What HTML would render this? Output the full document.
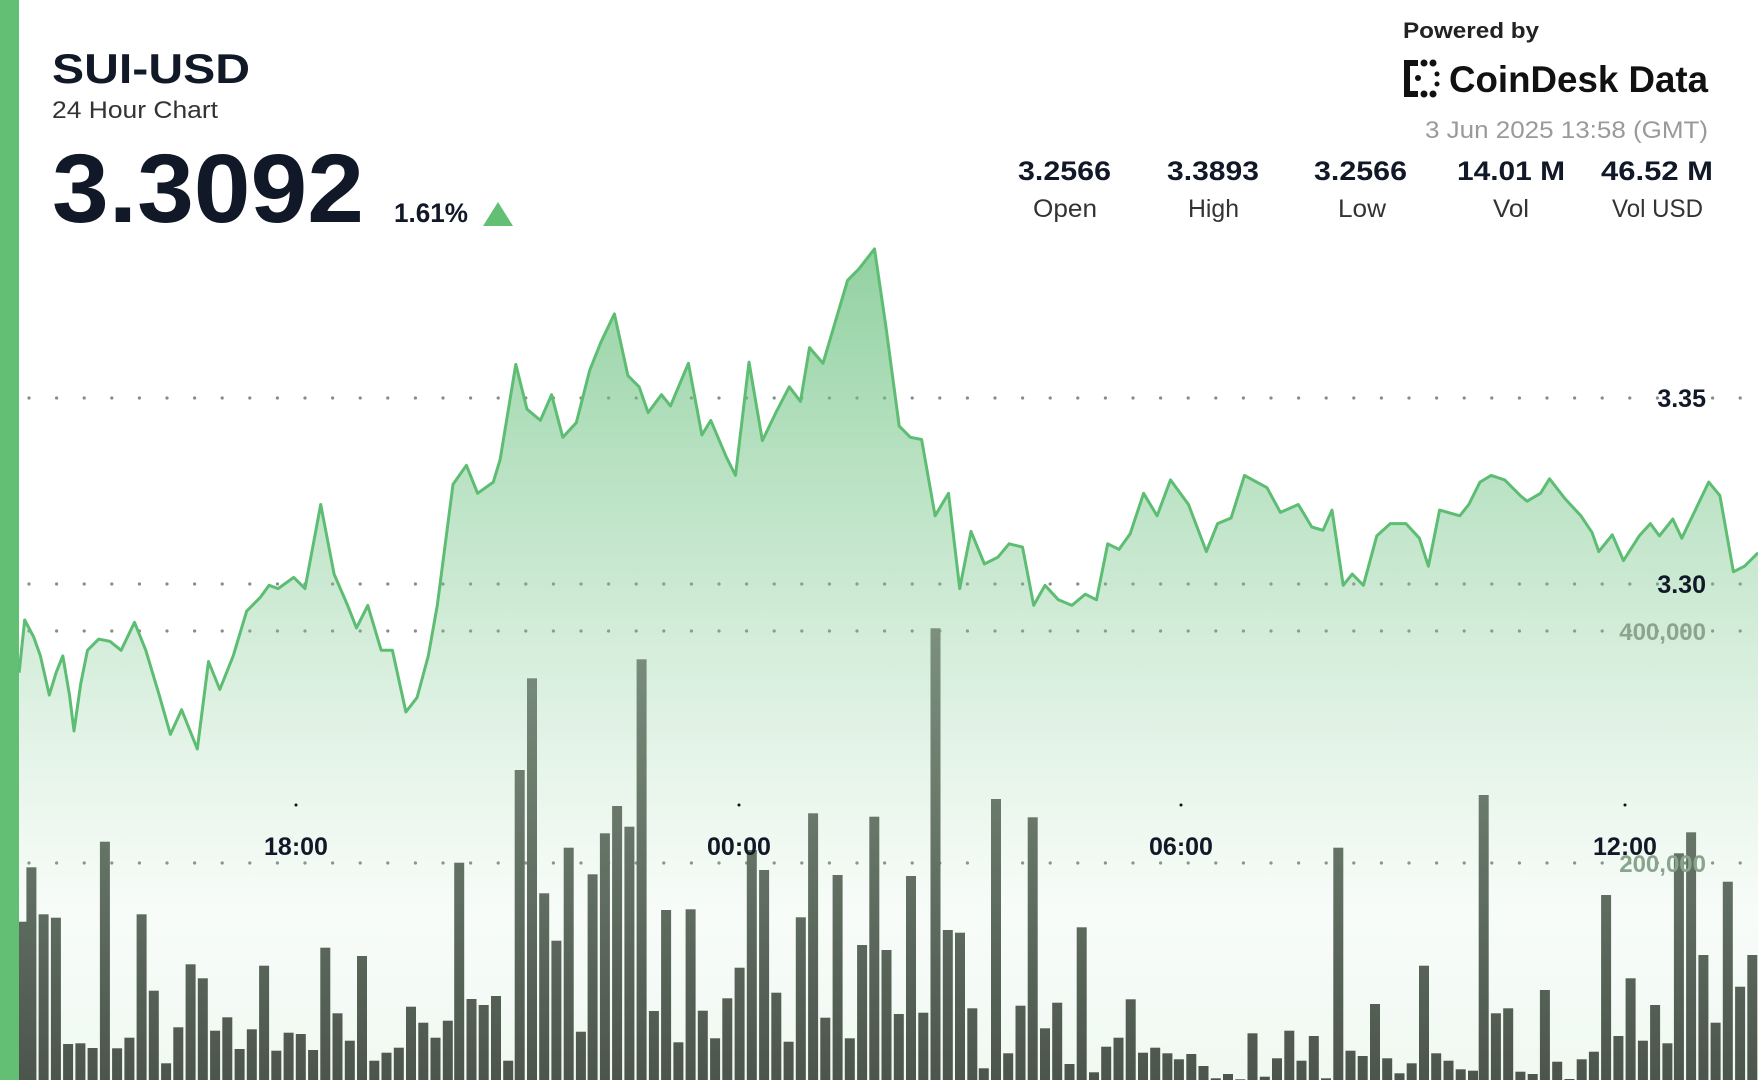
<!DOCTYPE html>
<html><head><meta charset="utf-8"><style>
html,body{margin:0;padding:0;background:#fff;width:1758px;height:1080px;overflow:hidden}
svg{display:block}
text{font-family:"Liberation Sans",sans-serif}
</style></head><body>
<svg id="s" width="1758" height="1080" viewBox="0 0 1758 1080" xmlns="http://www.w3.org/2000/svg">
<defs>
<linearGradient id="fg" gradientUnits="userSpaceOnUse" x1="0" y1="249" x2="0" y2="1080">
<stop offset="0" stop-color="#62bd78" stop-opacity="0.7"/>
<stop offset="0.45" stop-color="#7cc88e" stop-opacity="0.35"/>
<stop offset="0.8" stop-color="#9ed6aa" stop-opacity="0.08"/>
<stop offset="1" stop-color="#9ed6aa" stop-opacity="0.15"/>
</linearGradient>
<linearGradient id="bg" gradientUnits="userSpaceOnUse" x1="0" y1="620" x2="0" y2="1080">
<stop offset="0" stop-color="#7d917f"/>
<stop offset="1" stop-color="#4c554c"/>
</linearGradient>
</defs>
<rect x="0" y="0" width="19" height="1080" fill="#63bf74"/>
<g id="grid"></g>
<path id="area" fill="url(#fg)"/>
<g id="bars"></g>
<path id="line" fill="none" stroke="#5dbd73" stroke-width="3" stroke-linejoin="round"/>
<g id="dots"></g>

<text x="52" y="83" font-size="42" font-weight="bold" fill="#111827" textLength="198" lengthAdjust="spacingAndGlyphs">SUI-USD</text>
<text x="52" y="118" font-size="24" fill="#333" textLength="166" lengthAdjust="spacingAndGlyphs">24 Hour Chart</text>
<text x="52" y="222" font-size="97" font-weight="bold" fill="#111827" textLength="312" lengthAdjust="spacingAndGlyphs">3.3092</text>
<text x="394" y="222" font-size="27" font-weight="bold" fill="#111827" textLength="74" lengthAdjust="spacingAndGlyphs">1.61%</text>
<polygon points="483,226 513,226 498,202" fill="#63bf74"/>

<text x="1403" y="38" font-size="22" font-weight="bold" fill="#222" textLength="136" lengthAdjust="spacingAndGlyphs">Powered by</text>
<g fill="#111">
<rect x="1404" y="60" width="6" height="37"/><rect x="1404" y="60" width="14" height="6"/><rect x="1404" y="91" width="14" height="6"/>
<circle cx="1424" cy="63" r="3.5"/><circle cx="1433" cy="63" r="3.5"/><circle cx="1424" cy="94" r="3.5"/><circle cx="1433" cy="94" r="3.5"/>
<circle cx="1418" cy="78" r="3"/><circle cx="1437" cy="74" r="2.5"/><circle cx="1437" cy="84" r="2.5"/>
</g>
<text x="1449" y="92" font-size="37" font-weight="bold" fill="#111" textLength="259" lengthAdjust="spacingAndGlyphs">CoinDesk Data</text>
<text x="1425" y="138" font-size="24" fill="#9a9a9a" textLength="283" lengthAdjust="spacingAndGlyphs">3 Jun 2025 13:58 (GMT)</text>

<g font-size="27" font-weight="bold" fill="#111827">
<text x="1018" y="180" textLength="93" lengthAdjust="spacingAndGlyphs">3.2566</text>
<text x="1167" y="180" textLength="92" lengthAdjust="spacingAndGlyphs">3.3893</text>
<text x="1314" y="180" textLength="93" lengthAdjust="spacingAndGlyphs">3.2566</text>
<text x="1457" y="180" textLength="108" lengthAdjust="spacingAndGlyphs">14.01 M</text>
<text x="1601" y="180" textLength="112" lengthAdjust="spacingAndGlyphs">46.52 M</text>
</g>
<g font-size="25" fill="#333">
<text x="1033" y="217" textLength="64" lengthAdjust="spacingAndGlyphs">Open</text>
<text x="1188" y="217" textLength="51" lengthAdjust="spacingAndGlyphs">High</text>
<text x="1338" y="217" textLength="48" lengthAdjust="spacingAndGlyphs">Low</text>
<text x="1493" y="217" textLength="36" lengthAdjust="spacingAndGlyphs">Vol</text>
<text x="1612" y="217" textLength="91" lengthAdjust="spacingAndGlyphs">Vol USD</text>
</g>

<g font-size="25" font-weight="bold" fill="#111827" text-anchor="end">
<text x="1706" y="407">3.35</text>
<text x="1706" y="593">3.30</text>
</g>
<g font-size="24" font-weight="bold" fill="#8aa58e" text-anchor="end">
<text x="1706" y="640">400,000</text>
<text x="1706" y="872">200,000</text>
</g>
<g font-size="25" font-weight="bold" fill="#111827" text-anchor="middle">
<text x="296" y="855">18:00</text>
<text x="739" y="855">00:00</text>
<text x="1181" y="855">06:00</text>
<text x="1625" y="855">12:00</text>
</g>
<g fill="#111"><circle cx="296" cy="805" r="1.5"/><circle cx="739" cy="805" r="1.5"/><circle cx="1181" cy="805" r="1.5"/><circle cx="1625" cy="805" r="1.5"/></g>
</svg>
<script>
(function(){
var NS="http://www.w3.org/2000/svg";
function el(t,a,p){var e=document.createElementNS(NS,t);for(var k in a)e.setAttribute(k,a[k]);p.appendChild(e);return e;}
var g=document.getElementById('grid');
[398,584,631,863].forEach(function(y){for(var x=29;x<1758;x+=27.6){el('circle',{cx:x.toFixed(1),cy:y,r:1.6,fill:'#8a8a8a'},g);}});
var P=[17,600,22,553,30,568,36,585,44,620,50,600,56,585,62,620,66,652,72,610,78,580,88,570,98,572,108,580,120,555,130,580,142,620,152,655,162,633,176,668,186,590,196,615,208,585,220,545,232,533,240,522,248,525,262,515,272,525,286,450,298,512,310,540,318,560,328,540,340,580,350,580,362,635,372,622,382,585,390,540,404,432,416,415,426,440,440,430,446,410,460,325,470,365,482,375,492,352,502,390,514,377,526,330,536,305,548,280,560,335,570,345,578,368,590,352,598,362,614,324,626,388,634,375,648,408,656,424,668,323,680,393,692,368,704,345,714,358,722,310,734,324,756,250,766,240,780,222,790,290,802,380,812,390,822,392,834,460,846,440,856,525,866,474,878,503,890,497,900,485,912,488,922,540,932,522,944,535,956,540,968,530,978,535,988,485,998,490,1008,476,1020,440,1032,460,1044,428,1060,450,1076,492,1086,467,1098,462,1110,424,1130,435,1142,457,1158,450,1170,470,1180,473,1188,455,1198,522,1206,512,1216,522,1228,478,1240,467,1254,467,1266,480,1274,505,1284,455,1302,460,1310,450,1320,430,1330,424,1342,428,1356,442,1362,447,1374,440,1382,427,1396,445,1410,460,1420,475,1426,492,1438,477,1448,500,1462,478,1472,467,1480,478,1492,463,1500,480,1512,455,1524,430,1534,442,1546,510,1556,505,1568,493];
var s=1.1212,d="";
for(var i=0;i<P.length;i+=2){d+=(i?"L":"M")+(P[i]*s).toFixed(1)+","+(P[i+1]*s).toFixed(1);}
document.getElementById('line').setAttribute('d',d);
document.getElementById('area').setAttribute('d',d+"L1758,1080L19,1080Z");
var Z6=[58,905,82,742,114,883,146,893,178,1272,210,1270,242,1284,274,665,306,1285,338,1253,370,883,402,1112,434,1330,466,1222,498,1033,530,1075,562,1232,594,1192,626,1287,658,1228,690,1037,722,1292,754,1238,786,1242,818,1290,850,983,882,1180,914,1262,946,1008,978,1322,1010,1298,1042,1283,1074,1160,1106,1208,1138,1253,1170,1202,1200,728,1232,1137,1264,1155,1296,1128,1328,1322,1358,450,1390,175,1422,820,1454,962,1486,683,1518,1235];
var Z7=[33,763,65,640,97,558,129,620,161,118,193,1173,225,870,257,1267,289,868,321,1172,353,1255,385,1135,417,1043,449,690,481,750,513,1118,545,1265,577,892,609,580,641,1193,673,765,705,1255,737,975,769,590,801,990,833,1182,865,768,897,1178,929,25,961,930,993,938,1025,1165,1055,1345,1087,537,1119,1300,1151,1157,1183,592,1215,1225,1247,1148,1279,1332,1311,922,1343,1357,1375,1280,1407,1253,1439,1138,1471,1298,1503,1283,1535,1300,1565,1318];
var Z8=[87,1302,119,1338,151,1375,183,1362,215,1378,247,1240,279,1370,311,1315,343,1232,375,1322,407,1248,439,1375,471,683,503,1292,535,1308,567,1152,599,1315,631,1360,663,1330,695,1037,727,1300,759,1322,791,1348,823,1352,851,525,883,1180,915,1165,947,1355,979,1362,1011,1110,1043,1325,1075,1377,1107,1318,1139,1295,1171,825,1203,1248,1235,1075,1267,1262,1299,1155,1331,1270,1361,700,1393,637,1425,1005,1457,1208,1489,785,1521,1100,1553,1005];
var b=document.getElementById('bars');
function add(arr,off){for(var i=0;i<arr.length;i+=2){var cx=off+arr[i]/2.613;var y=620+arr[i+1]/3;var x=cx-5;if(x<19){x=19;}el('rect',{x:x.toFixed(1),y:y.toFixed(1),width:(cx+5-x).toFixed(1),height:(1080-y).toFixed(1),fill:'url(#bg)'},b);}}
add(Z6,0);add(Z7,580);add(Z8,1158);
})();
</script>
</body></html>
